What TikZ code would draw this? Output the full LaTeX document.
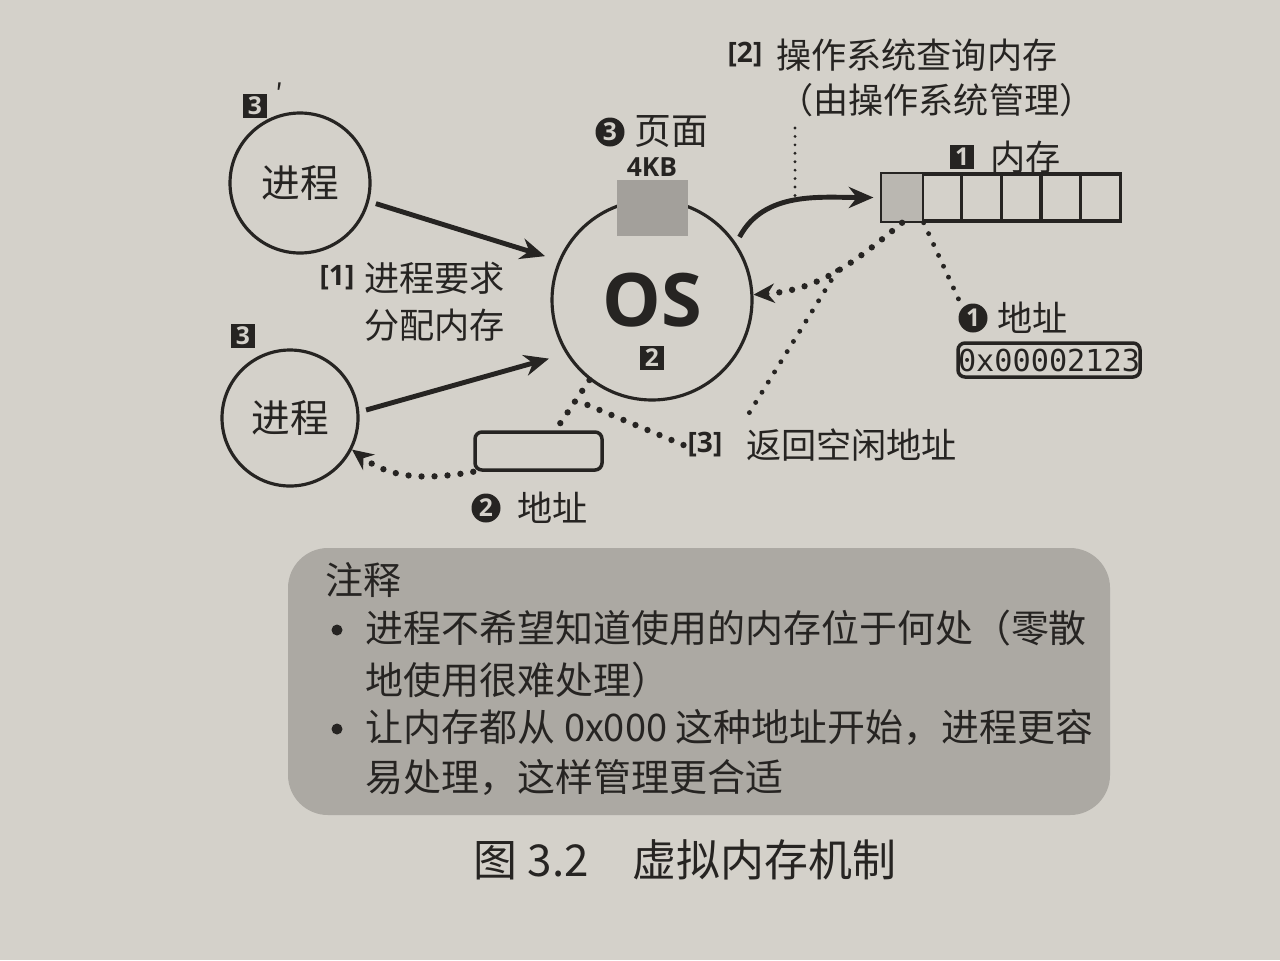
\documentclass[tikz,border=0pt]{standalone}
\usepackage{fontspec}
\setmainfont{Noto Sans CJK SC}
\newfontfamily\osfont{Open Sans}
\setmonofont{DejaVu Sans Mono}
\usepackage{tikz}
\usetikzlibrary{arrows, arrows.meta, shapes, positioning, calc}
\definecolor{paper}{RGB}{212,209,202}
\definecolor{notegray}{RGB}{172,169,163}
\definecolor{ink}{RGB}{38,36,34}
\definecolor{pagegray}{RGB}{163,160,155}
\definecolor{cellgray}{RGB}{186,183,177}
\tikzset{proc/.style = {
  circle,
  draw=ink, line width=0.9pt,
  text=ink, font=\fontsize{11pt}{13pt}\selectfont
  }}
\tikzset{numbox/.style = {
  fill=ink, text=paper,
  font=\osfont\bfseries\fontsize{7pt}{8pt}\selectfont,
  inner sep=0pt, minimum size=0.24cm
  }}
\tikzset{numcirc/.style = {
  circle, fill=ink, text=paper,
  font=\osfont\bfseries\fontsize{7pt}{8pt}\selectfont,
  inner sep=0pt, minimum size=0.29cm
  }}
\tikzset{lbl/.style = {
  text=ink, inner sep=1pt,
  font=\fontsize{10pt}{12pt}\selectfont
  }}
\tikzset{tag/.style = {
  text=ink, inner sep=1pt,
  font=\osfont\bfseries\fontsize{8pt}{9pt}\selectfont
  }}
\tikzset{cell/.style = {
  rectangle, draw=ink, line width=1pt,
  minimum width=0.397cm, minimum height=0.47cm, inner sep=0pt
  }}
\tikzset{arrow/.style = {
  ->,
  >={Stealth[length=7pt,width=6pt]},
  shorten >= 2pt,
  shorten <= 2pt,
  draw=ink,
  line width=1.4pt
  }}
\tikzset{dots/.style = {
  draw=ink, line width=1.8pt, line cap=round,
  dash pattern=on 0pt off 3.7pt,
  >={Stealth[length=6pt,width=5.5pt]}
  }}
\tikzset{dotsb/.style = {
  draw=ink, line width=1.4pt, line cap=round,
  dash pattern=on 0pt off 3.4pt
  }}
\tikzset{finedots/.style = {
  draw=ink, line width=0.9pt, line cap=round,
  dash pattern=on 0pt off 2.4pt
  }}
\tikzset{notebox/.style = {
  rectangle, rounded corners=0.4cm,
  fill=notegray,
  minimum width=8.22cm, minimum height=2.67cm
  }}
\tikzset{notetext/.style = {
  text=ink, inner sep=0pt, anchor=west,
  font=\fontsize{10.8pt}{13pt}\selectfont
  }}
\tikzset{bullet/.style = {
  circle, fill=ink, inner sep=0pt, minimum size=0.11cm
  }}

\begin{document}
\begin{tikzpicture}
\useasboundingbox (0,0) rectangle (12.8,9.6);
\fill[paper] (0,0) rectangle (12.8,9.6);

% NODES
\node (proctop) [proc, minimum size=1.40cm] at (3.00,7.77) {进程};
\node (procbot) [proc, minimum size=1.36cm] at (2.90,5.42) {进程};
\node (n3p) [numbox] at (2.55,8.54) {3};
\node (prime) [lbl, inner sep=0pt, font=\fontsize{8pt}{9pt}\selectfont] at (2.79,8.66) {′};
\node (n3) [numbox] at (2.43,6.24) {3};

\node (os) [proc, minimum size=2.0cm, font=\osfont\bfseries\fontsize{21pt}{24pt}\selectfont] at (6.52,6.60) {OS};
\node (n2) [numbox] at (6.52,6.02) {2};
\node (page) [fill=pagegray, minimum width=0.71cm, minimum height=0.56cm, inner sep=0pt] at (6.525,7.52) {};
\node (kb) [tag, font=\osfont\bfseries\fontsize{7.5pt}{9pt}\selectfont] at (6.52,7.93) {4KB};
\node (c3) [numcirc] at (6.10,8.28) {3};
\node (pagelbl) [lbl, right=0.05cm of c3, font=\fontsize{10.5pt}{12pt}\selectfont] {页面};

\node (tag1) [tag] at (3.37,6.82) {[1]};
\node (lbl1a) [lbl, anchor=west] at (3.60,6.82) {进程要求};
\node (lbl1b) [lbl, anchor=west] at (3.60,6.35) {分配内存};

\foreach \i in {1,...,6}
  \node (mem\i) [cell] at ({8.822+0.397*(\i-0.5)},7.625) {};
\fill[cellgray] ([shift={(0.5pt,0.5pt)}]mem1.south west) rectangle ([shift={(-0.5pt,-0.5pt)}]mem1.north east);
\node (n1) [numbox] at (9.62,8.03) {1};
\node (memlbl) [lbl, anchor=west] at (9.86,8.03) {内存};

\node (tag2) [tag] at (7.45,9.05) {[2]};
\node (lbl2a) [lbl, anchor=west] at (7.72,9.05) {操作系统查询内存};
\node (lbl2b) [lbl, anchor=west] at (7.74,8.60) {（由操作系统管理）};

\node (c1) [numcirc] at (9.73,6.42) {1};
\node (addrlbl1) [lbl, right=0.05cm of c1] {地址};
\node (addr) [draw=ink, line width=1pt, rounded corners=2pt, minimum width=1.82cm, minimum height=0.34cm, inner sep=0pt, text=ink, font=\ttfamily\fontsize{8.6pt}{10pt}\selectfont] at (10.49,6.00) {0x00002123};

\node (tag3) [tag] at (7.05,5.15) {[3]};
\node (lbl3) [lbl, anchor=west] at (7.42,5.15) {返回空闲地址};

\node (addrbox) [draw=ink, line width=1pt, rounded corners=2pt, minimum width=1.27cm, minimum height=0.38cm, inner sep=0pt] at (5.385,5.09) {};
\node (c2) [numcirc] at (4.86,4.52) {2};
\node (addrlbl2) [lbl, right=0.12cm of c2] {地址};

\node (note) [notebox] at (6.99,2.785) {};
\node (notetitle) [notetext] at (3.25,3.80) {注释};
\node (bul1) [bullet] at (3.37,3.30) {};
\node (item1a) [notetext] at (3.65,3.32) {进程不希望知道使用的内存位于何处（零散};
\node (item1b) [notetext] at (3.65,2.80) {地使用很难处理）};
\node (bul2) [bullet] at (3.37,2.31) {};
\node (item2a) [notetext] at (3.65,2.33) {让内存都从 0x000 这种地址开始，进程更容};
\node (item2b) [notetext] at (3.65,1.83) {易处理，这样管理更合适};

\node (caption) [text=ink, font=\fontsize{12.5pt}{14pt}\selectfont] at (6.85,1.00) {图 3.2\quad 虚拟内存机制};

% arrows
\draw [arrow, shorten >=4pt] (proctop.-15) -- (os.157);
\draw [arrow, shorten >=5pt] (procbot.5) -- (os.212);
\draw [arrow] (os.34) to[out=62,in=180] (mem1.west);
\coordinate (q2) at (7.95,7.57);
\draw [finedots] ([yshift=-2pt]q2 |- lbl2b.south) -- (q2);

\draw [dots, ->] (mem1.south) to[out=220,in=4] coordinate[pos=0.47] (j1) (os.3);
\draw [dotsb, shorten >=2pt] (mem1.south east) -- (c1.135);
\draw [dotsb, shorten >=3pt] (j1) -- (lbl3.north west);
\draw [dots] (os.232) -- coordinate[pos=0.4] (j2) ([xshift=0.17cm]addrbox.north);
\draw [dots] (tag3.west) -- (j2);
\draw [dots, ->] (addrbox.south west) to[out=190,in=-37] (procbot.-27);
\end{tikzpicture}
\end{document}
